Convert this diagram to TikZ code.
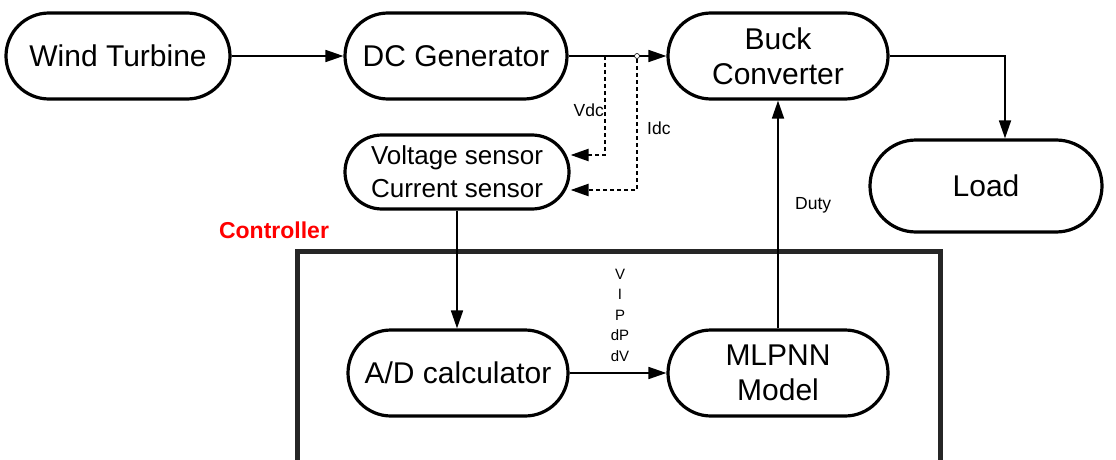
\documentclass[tikz,border=0pt]{standalone}
\usepackage{fontspec}
\setmainfont{Liberation Sans}
\usetikzlibrary{shapes.misc,arrows.meta}
\begin{document}
\begin{tikzpicture}[x=1pt,y=-1pt,
  blk/.style={draw,line width=3.2pt,rounded rectangle,minimum height=86pt,inner sep=0pt,
    font=\fontsize{30}{35}\selectfont,align=center},
  conn/.style={line width=1.7pt,-{Triangle[length=18pt,width=12pt]}},
  dconn/.style={line width=2.3pt,dash pattern=on 4pt off 3pt,-{Triangle[length=18pt,width=12pt]}},
  lbl/.style={font=\fontsize{17.5}{20}\selectfont,inner sep=0pt},
  sml/.style={font=\fontsize{15}{20.5}\selectfont,inner sep=0pt,align=center}]
\useasboundingbox (0,0) rectangle (1116,460);
% controller frame
\draw[line width=5pt,draw=black!85] (297,251) rectangle (940,475);
\node[font=\bfseries\fontsize{23}{24}\selectfont,text=red,inner sep=0pt] (ctl) at (274,230) {Controller};
% blocks
\node[blk,minimum width=224pt] (wt) at (118,56) {Wind Turbine};
\node[blk,minimum width=222pt] (dcg) at (456,56) {DC Generator};
\node[blk,minimum width=220pt] (buck) at (778,56) {Buck\\Converter};
\node[blk,minimum width=224pt,minimum height=74pt,font=\fontsize{26}{33}\selectfont] (sens) at (457,172) {Voltage sensor\\Current sensor};
\node[blk,minimum width=232pt,minimum height=92pt] (load) at (986,186) {Load};
\node[blk,minimum width=220pt] (ad) at (458,373) {A/D calculator};
\node[blk,minimum width=220pt] (mlp) at (778,373) {MLPNN\\Model};
% connectors
\draw[conn] (wt) -- (dcg);
\coordinate (vj) at (605,56);
\coordinate (ij) at (637,56);
\draw[conn] (dcg.east) -- (buck.west);
\draw[fill=white,line width=0.6pt] (ij) circle (2.5pt);
\coordinate (vc) at (605,155);
\coordinate (ic) at (637,190);
\draw[dconn] (vj) -- (vc) -- (vc -| sens.east);
\draw[dconn] (ij) ++(0,3) -- (ic) -- (ic -| sens.east);
\node[lbl,anchor=east] (vdc) at (604,110) {Vdc};
\node[lbl,anchor=west] (idc) at (647,128) {Idc};
\coordinate (lc) at (1005,56);
\draw[conn] (buck.east) -- (lc) -- (load.north -| lc);
\draw[conn] (sens.south) -- (sens.south |- ad.north);
\draw[conn] (ad) -- (mlp);
\node[sml] (vars) at (620,315) {V\\I\\P\\dP\\dV};
\draw[conn] (mlp.north) -- (buck.south);
\node[lbl,anchor=west] (duty) at (795,205) {Duty};
\end{tikzpicture}
\end{document}
